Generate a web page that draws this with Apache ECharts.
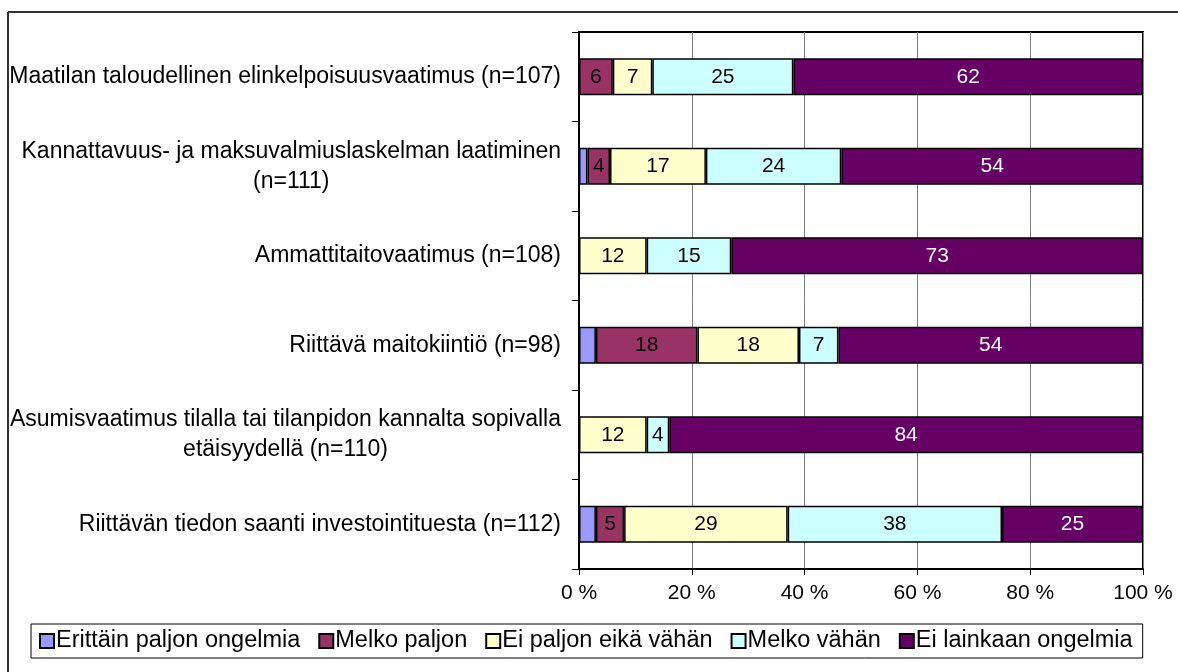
<!DOCTYPE html>
<html>
<head>
<meta charset="utf-8">
<script src="https://cdn.jsdelivr.net/npm/echarts@6/dist/echarts.min.js"></script>
<style>
  html, body { margin: 0; padding: 0; background: #fff; }
  #chart { width: 1178px; height: 672px; }
</style>
</head>
<body>
<div id="chart"></div>
<script>
// kategoriat ylhäältä alas
var categories = [
    'Maatilan taloudellinen elinkelpoisuusvaatimus (n=107)',
    'Kannattavuus- ja maksuvalmiuslaskelman laatiminen\n(n=111)',
    'Ammattitaitovaatimus (n=108)',
    'Riittävä maitokiintiö (n=98)',
    'Asumisvaatimus tilalla tai tilanpidon kannalta sopivalla\netäisyydellä (n=110)',
    'Riittävän tiedon saanti investointituesta (n=112)'
];
var seriesNames = ['Erittäin paljon ongelmia', 'Melko paljon', 'Ei paljon eikä vähän', 'Melko vähän', 'Ei lainkaan ongelmia'];
var erittainPaljon = [0, 1.5, 0, 3, 0, 3];
var melkoPaljon    = [6, 4, 0, 18, 0, 5];
var eiPaljon       = [7, 17, 12, 18, 12, 29];
var melkoVahan     = [25, 24, 15, 7, 4, 38];
var eiLainkaan     = [62, 53.5, 73, 54, 84, 25];
var xTicks = [0, 20, 40, 60, 80, 100];

var colors = ['#9999FF', '#993366', '#FFFFCC', '#CCFFFF', '#660066'];
var values = [erittainPaljon, melkoPaljon, eiPaljon, melkoVahan, eiLainkaan];
var font = 'Liberation Sans, Arial, sans-serif';

var myChart = echarts.init(document.getElementById('chart'));

var series = seriesNames.map(function(name, i) {
    return {
        name: name,
        type: 'bar',
        stack: 'total',
        barWidth: 37,
        data: values[i],
        itemStyle: { color: colors[i], borderColor: '#000', borderWidth: 1.5 },
        label: {
            show: i > 0,
            position: 'inside',
            fontFamily: font,
            fontSize: 21,
            color: i === 4 ? '#fff' : '#000',
            formatter: function(p) { return p.value > 0 ? Math.round(p.value) : ''; }
        },
        emphasis: { disabled: true }
    };
});

var option = {
    animation: false,
    textStyle: { fontFamily: font },
    grid: { left: 579, right: 35, top: 32, bottom: 103, show: true, borderColor: '#000', borderWidth: 2 },
    xAxis: {
        type: 'value',
        min: xTicks[0],
        max: xTicks[xTicks.length - 1],
        interval: 20,
        axisLine: { show: true, lineStyle: { color: '#000', width: 2 } },
        axisTick: { show: true, length: 6, lineStyle: { color: '#000' } },
        splitLine: { show: true, lineStyle: { color: '#808080', width: 1 } },
        axisLabel: { fontSize: 21, color: '#000', margin: 14, formatter: '{value} %' }
    },
    yAxis: {
        type: 'category',
        inverse: true,
        data: categories,
        axisLine: { show: true, lineStyle: { color: '#000', width: 2 } },
        axisTick: { show: true, length: 7, lineStyle: { color: '#000' } },
        axisLabel: {
            margin: 18,
            color: '#000',
            formatter: function(v) {
                return v.split('\n').map(function(l) { return '{c|' + l + '}'; }).join('\n');
            },
            rich: { c: { align: 'center', fontSize: 23, lineHeight: 30, fontFamily: font, color: '#000' } }
        }
    },
    legend: {
        data: seriesNames,
        icon: 'rect',
        left: 31,
        top: 624,
        padding: [5, 10, 5, 8],
        itemWidth: 14,
        itemHeight: 14,
        itemGap: 18,
        borderColor: '#000',
        borderWidth: 1,
        backgroundColor: '#fff',
        textStyle: { fontSize: 23.5, color: '#000', fontFamily: font, padding: [0, 0, 0, -3] }
    },
    graphic: [
        { type: 'line', shape: { x1: 8, y1: 12, x2: 1178, y2: 12 }, style: { stroke: '#333', lineWidth: 2 } },
        { type: 'line', shape: { x1: 8, y1: 12, x2: 8, y2: 672 }, style: { stroke: '#333', lineWidth: 2 } }
    ],
    series: series
};

myChart.setOption(option);
</script>
</body>
</html>
